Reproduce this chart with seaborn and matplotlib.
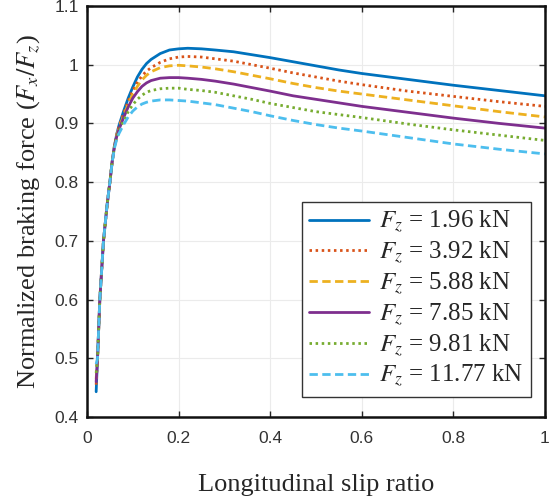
import numpy as np
import pandas as pd
import matplotlib
matplotlib.use("Agg")
import matplotlib.pyplot as plt
import seaborn as sns

# slip ratio grid
slip = [0.02, 0.023, 0.028, 0.036, 0.044, 0.05, 0.055, 0.06, 0.065, 0.07,
        0.08, 0.09, 0.10, 0.11, 0.12, 0.13, 0.14, 0.16, 0.18, 0.20,
        0.22, 0.25, 0.28, 0.32, 0.36, 0.40, 0.45, 0.50, 0.55, 0.60,
        0.70, 0.80, 0.90, 1.00]

fz_196 = [0.443, 0.50, 0.60, 0.70, 0.762, 0.80, 0.835, 0.862, 0.882, 0.897,
          0.921, 0.943, 0.962, 0.979, 0.992, 1.002, 1.009, 1.019, 1.025, 1.027,
          1.028, 1.027, 1.025, 1.022, 1.017, 1.012, 1.005, 0.998, 0.991, 0.985,
          0.975, 0.965, 0.956, 0.947]
fz_392 = [0.455, 0.50, 0.60, 0.70, 0.762, 0.80, 0.835, 0.862, 0.881, 0.895,
          0.917, 0.938, 0.956, 0.970, 0.981, 0.989, 0.995, 1.004, 1.010, 1.013,
          1.014, 1.013, 1.010, 1.006, 1.000, 0.994, 0.986, 0.979, 0.972, 0.966,
          0.955, 0.946, 0.937, 0.929]
fz_588 = [0.465, 0.50, 0.60, 0.70, 0.762, 0.80, 0.835, 0.862, 0.880, 0.893,
          0.913, 0.933, 0.950, 0.963, 0.974, 0.982, 0.988, 0.995, 0.998, 0.999,
          0.998, 0.996, 0.993, 0.988, 0.982, 0.976, 0.968, 0.961, 0.955, 0.950,
          0.940, 0.930, 0.920, 0.911]
fz_785 = [0.460, 0.50, 0.60, 0.70, 0.762, 0.80, 0.835, 0.861, 0.878, 0.890,
          0.910, 0.928, 0.943, 0.954, 0.963, 0.969, 0.973, 0.977, 0.978, 0.978,
          0.977, 0.975, 0.972, 0.967, 0.961, 0.955, 0.947, 0.941, 0.935, 0.929,
          0.919, 0.909, 0.900, 0.892]
fz_981 = [0.475, 0.50, 0.60, 0.70, 0.762, 0.80, 0.835, 0.860, 0.876, 0.887,
          0.905, 0.920, 0.932, 0.941, 0.948, 0.953, 0.956, 0.959, 0.960, 0.960,
          0.958, 0.956, 0.953, 0.947, 0.941, 0.934, 0.927, 0.920, 0.915, 0.910,
          0.899, 0.889, 0.880, 0.871]
fz_1177 = [0.490, 0.50, 0.60, 0.70, 0.762, 0.80, 0.834, 0.858, 0.873, 0.883,
           0.898, 0.911, 0.921, 0.928, 0.933, 0.936, 0.938, 0.940, 0.940, 0.939,
           0.938, 0.935, 0.932, 0.926, 0.920, 0.913, 0.905, 0.898, 0.892, 0.887,
           0.876, 0.865, 0.856, 0.848]

loads = ["1.96", "3.92", "5.88", "7.85", "9.81", "11.77"]
series = [fz_196, fz_392, fz_588, fz_785, fz_981, fz_1177]
colors = ["#0072BD", "#D95319", "#EDB120", "#7E2F8E", "#77AC30", "#4DBEEE"]
styles = ["-", (0, (0.9, 1.3)), (0, (3.0, 1.6)), "-", (0, (0.9, 1.3)), (0, (3.0, 1.6))]

sns.set_style("ticks")
plt.rcParams["mathtext.fontset"] = "stix"
plt.rcParams["font.family"] = ["Liberation Sans", "DejaVu Sans"]

fig = plt.figure(figsize=(5.52, 4.98), dpi=100)
ax = fig.add_axes([0.1576, 0.1627, 0.8297, 0.8253])

for load, vals, c, ls in zip(loads, series, colors, styles):
    df = pd.DataFrame({"slip": slip, "force": vals})
    sns.lineplot(data=df, x="slip", y="force", ax=ax, color=c, linestyle=ls,
                 linewidth=2.0, label=rf"$F_z$ = {load} kN", sort=False)

ax.set_xlim(0, 1)
ax.set_ylim(0.4, 1.1)
ax.set_xticks([0, 0.2, 0.4, 0.6, 0.8, 1.0])
ax.set_xticklabels(["0", "0.2", "0.4", "0.6", "0.8", "1"])
ax.set_yticks([0.4, 0.5, 0.6, 0.7, 0.8, 0.9, 1.0, 1.1])
ax.set_yticklabels(["0.4", "0.5", "0.6", "0.7", "0.8", "0.9", "1", "1.1"])
ax.grid(True, color="#ebebeb", linewidth=0.8)
ax.tick_params(direction="in", length=4, width=1, top=True, right=True,
               labelsize=12.5, labelcolor="#333333", pad=6)
ax.tick_params(axis="x", pad=10)
for sp in ax.spines.values():
    sp.set_visible(True)
    sp.set_linewidth(1.8)
    sp.set_color("#111111")

serif = ["Liberation Serif", "DejaVu Serif"]
ax.set_xlabel("Longitudinal slip ratio", family=serif, fontsize=19, labelpad=20)
ax.set_ylabel(r"Normalized braking force ($F_x/F_z$)", family=serif, fontsize=19, labelpad=9)

leg = ax.legend(loc="lower right", bbox_to_anchor=(0.969, 0.049), borderaxespad=0,
                fancybox=False, framealpha=1, edgecolor="#333333", handlelength=2.4,
                labelspacing=0.18, borderpad=0.3, handletextpad=0.4,
                prop={"family": serif, "size": 18})
leg.get_frame().set_linewidth(1.0)

fig.savefig("out.png", dpi=100)
